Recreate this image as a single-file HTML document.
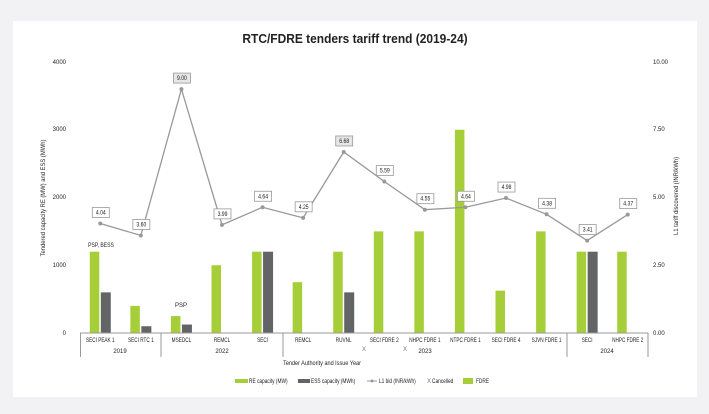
<!DOCTYPE html>
<html><head><meta charset="utf-8"><style>
html,body{margin:0;padding:0;background:#f2f2f4;width:709px;height:414px;overflow:hidden}
svg{display:block;font-family:"Liberation Sans",Arial,sans-serif}
</style></head><body>
<svg width="709" height="414" viewBox="0 0 709 414" xmlns="http://www.w3.org/2000/svg">
<rect x="0" y="0" width="709" height="414" fill="#f2f2f4"/>
<rect x="13" y="21" width="684" height="376" fill="#ffffff"/>
<text x="355" y="43" text-anchor="middle" font-size="13" font-weight="bold" fill="#222" transform="translate(355 0) scale(0.92 1) translate(-355 0)">RTC/FDRE tenders tariff trend (2019-24)</text>
<g font-size="6" fill="#222">
<text x="66" y="64" text-anchor="end">4000</text>
<text x="66" y="131" text-anchor="end">3000</text>
<text x="66" y="199" text-anchor="end">2000</text>
<text x="66" y="267" text-anchor="end">1000</text>
<text x="66" y="335" text-anchor="end">0</text>
<text x="653" y="64">10.00</text>
<text x="653" y="131">7.50</text>
<text x="653" y="199">5.00</text>
<text x="653" y="267">2.50</text>
<text x="653" y="335">0.00</text>
<text transform="translate(45 198) rotate(-90) scale(0.9 1)" text-anchor="middle" font-size="6.5">Tendered capacity RE (MW) and ESS (MWh)</text>
<text transform="translate(678 196) rotate(-90) scale(0.9 1)" text-anchor="middle" font-size="6.5">L1 tariff discovered (INR/kWh)</text>
</g>
<g id="bars"></g>
<g stroke="#999" stroke-width="1" fill="none">
<line x1="80" y1="333" x2="648" y2="333"/>
<line x1="80.5" y1="333" x2="80.5" y2="357"/>
<line x1="161" y1="333" x2="161" y2="357"/>
<line x1="283" y1="333" x2="283" y2="357"/>
<line x1="567" y1="333" x2="567" y2="357"/>
<line x1="648" y1="333" x2="648" y2="357"/>
</g>
<g id="line"></g>
<g id="labs" font-size="6" fill="#222" text-anchor="middle"></g>
<g font-size="6" fill="#222" text-anchor="middle">
<text x="120" y="353">2019</text>
<text x="222" y="353">2022</text>
<text x="425" y="353">2023</text>
<text x="607" y="353">2024</text>
<text x="364" y="351" fill="#777">X</text>
<text x="405" y="351" fill="#777">X</text>
<text transform="translate(322 365) scale(0.85 1)" font-size="6.5">Tender Authority and Issue Year</text>
<text transform="translate(101 247) scale(0.85 1)">PSP, BESS</text>
<text x="181" y="307">PSP</text>
</g>
<g font-size="6" fill="#222">
<rect x="235" y="379" width="13" height="4" fill="#a6ce39"/>
<text transform="translate(249 383) scale(0.8 1)">RE capacity (MW)</text>
<rect x="298" y="379" width="12" height="4" fill="#636466"/>
<text transform="translate(311 383) scale(0.8 1)">ESS capacity (MWh)</text>
<line x1="367" y1="381" x2="377" y2="381" stroke="#999"/>
<circle cx="372" cy="381" r="1.5" fill="#999"/>
<text transform="translate(379 383) scale(0.8 1)">L1 bid (INR/kWh)</text>
<text x="427" y="383" fill="#777">X</text>
<text transform="translate(432 383) scale(0.8 1)">Cancelled</text>
<rect x="463" y="378" width="10" height="6" fill="#a6ce39"/>
<text transform="translate(476 383) scale(0.8 1)">FDRE</text>
</g>
<script>
var names=["SECI PEAK 1","SECI RTC 1","MSEDCL","REMCL","SECI","REMCL","RUVNL","SECI FDRE 2","NHPC FDRE 1","NTPC FDRE 1","SECI FDRE 4","SJVN FDRE 1","SECI","NHPC FDRE 2"];
var re=[1200,400,250,1000,1200,750,1200,1500,1500,3000,625,1500,1200,1200];
var ess=[600,100,125,0,1200,0,600,0,0,0,0,0,1200,0];
var t=[4.04,3.60,9.00,3.99,4.64,4.25,6.68,5.59,4.55,4.64,4.98,4.38,3.41,4.37];
var ns="http://www.w3.org/2000/svg",w=568/14,k=271/4000;
function el(n,a,p){var e=document.createElementNS(ns,n);for(var i in a)e.setAttribute(i,a[i]);p.appendChild(e);return e;}
var B=document.getElementById("bars"),L=document.getElementById("line"),T=document.getElementById("labs");
var pts=[];
for(var i=0;i<14;i++){var c=80+w*(i+0.5);
el("rect",{x:c-10.5,y:333-re[i]*k,width:9.5,height:re[i]*k,fill:"#a6ce39"},B);
if(ess[i])el("rect",{x:c+0.5,y:333-ess[i]*k,width:10,height:ess[i]*k,fill:"#636466"},B);
var y=333-t[i]*27.1;pts.push(c+","+y);
var tx=el("text",{transform:"translate("+c+" 342) scale(0.78 1)"},T);tx.textContent=names[i];
}
el("polyline",{points:pts.join(" "),fill:"none",stroke:"#999","stroke-width":1.3},L);
for(var i=0;i<14;i++){var c=80+w*(i+0.5),y=333-t[i]*27.1;
el("circle",{cx:c,cy:y,r:2,fill:"#999"},L);
var g=(i==2||i==6);
el("rect",{x:c-8,y:y-16,width:17,height:10,fill:g?"#e6e6e6":"#fff",stroke:"#999","stroke-width":0.8},L);
var tx=el("text",{transform:"translate("+(c+0.5)+" "+(y-9)+") scale(0.85 1)","text-anchor":"middle","font-size":6,fill:"#222"},L);tx.textContent=t[i].toFixed(2);
}
</script>
</svg>
</body></html>
